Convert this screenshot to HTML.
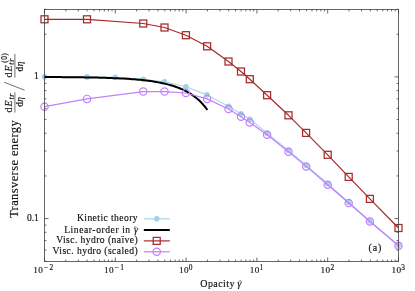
<!DOCTYPE html>
<html><head><meta charset="utf-8"><style>
html,body{margin:0;padding:0;background:#fff}
body{width:415px;height:291px;overflow:hidden;position:relative;font-family:"Liberation Serif",serif}
</style></head><body>
<svg width="415" height="291" viewBox="0 0 415 291" style="position:absolute;left:0;top:0;will-change:transform">
<rect width="415" height="291" fill="#fff"/>
<path d="M44.50 261.5v-4.0M44.50 9.5v4.0M65.81 261.5v-1.9M65.81 9.5v1.9M78.28 261.5v-1.9M78.28 9.5v1.9M87.13 261.5v-1.9M87.13 9.5v1.9M93.99 261.5v-1.9M93.99 9.5v1.9M99.59 261.5v-1.9M99.59 9.5v1.9M104.33 261.5v-1.9M104.33 9.5v1.9M108.44 261.5v-1.9M108.44 9.5v1.9M112.06 261.5v-1.9M112.06 9.5v1.9M115.30 261.5v-4.0M115.30 9.5v4.0M136.61 261.5v-1.9M136.61 9.5v1.9M149.08 261.5v-1.9M149.08 9.5v1.9M157.93 261.5v-1.9M157.93 9.5v1.9M164.79 261.5v-1.9M164.79 9.5v1.9M170.39 261.5v-1.9M170.39 9.5v1.9M175.13 261.5v-1.9M175.13 9.5v1.9M179.24 261.5v-1.9M179.24 9.5v1.9M182.86 261.5v-1.9M182.86 9.5v1.9M186.10 261.5v-4.0M186.10 9.5v4.0M207.41 261.5v-1.9M207.41 9.5v1.9M219.88 261.5v-1.9M219.88 9.5v1.9M228.73 261.5v-1.9M228.73 9.5v1.9M235.59 261.5v-1.9M235.59 9.5v1.9M241.19 261.5v-1.9M241.19 9.5v1.9M245.93 261.5v-1.9M245.93 9.5v1.9M250.04 261.5v-1.9M250.04 9.5v1.9M253.66 261.5v-1.9M253.66 9.5v1.9M256.90 261.5v-4.0M256.90 9.5v4.0M278.21 261.5v-1.9M278.21 9.5v1.9M290.68 261.5v-1.9M290.68 9.5v1.9M299.53 261.5v-1.9M299.53 9.5v1.9M306.39 261.5v-1.9M306.39 9.5v1.9M311.99 261.5v-1.9M311.99 9.5v1.9M316.73 261.5v-1.9M316.73 9.5v1.9M320.84 261.5v-1.9M320.84 9.5v1.9M324.46 261.5v-1.9M324.46 9.5v1.9M327.70 261.5v-4.0M327.70 9.5v4.0M349.01 261.5v-1.9M349.01 9.5v1.9M361.48 261.5v-1.9M361.48 9.5v1.9M370.33 261.5v-1.9M370.33 9.5v1.9M377.19 261.5v-1.9M377.19 9.5v1.9M382.79 261.5v-1.9M382.79 9.5v1.9M387.53 261.5v-1.9M387.53 9.5v1.9M391.64 261.5v-1.9M391.64 9.5v1.9M395.26 261.5v-1.9M395.26 9.5v1.9M398.50 261.5v-4.0M398.50 9.5v4.0M44.5 261.26h1.9M398.5 261.26h-1.9M44.5 250.04h1.9M398.5 250.04h-1.9M44.5 240.55h1.9M398.5 240.55h-1.9M44.5 232.33h1.9M398.5 232.33h-1.9M44.5 225.08h1.9M398.5 225.08h-1.9M44.5 218.60h4.0M398.5 218.60h-4.0M44.5 175.94h1.9M398.5 175.94h-1.9M44.5 150.99h1.9M398.5 150.99h-1.9M44.5 133.29h1.9M398.5 133.29h-1.9M44.5 119.56h1.9M398.5 119.56h-1.9M44.5 108.34h1.9M398.5 108.34h-1.9M44.5 98.85h1.9M398.5 98.85h-1.9M44.5 90.63h1.9M398.5 90.63h-1.9M44.5 83.38h1.9M398.5 83.38h-1.9M44.5 76.90h4.0M398.5 76.90h-4.0M44.5 34.24h1.9M398.5 34.24h-1.9M44.5 9.29h1.9M398.5 9.29h-1.9" stroke="#404040" stroke-width="0.8" fill="none"/>
<polyline points="44.50,76.80 87.00,76.90 115.30,77.30 143.25,79.20 164.50,81.80 185.90,86.70 207.00,94.90 228.50,106.30 241.00,113.90 249.80,119.30 267.10,133.30 288.50,150.40 306.20,165.30 327.70,183.80 348.70,202.30 369.90,221.00 398.50,245.30" fill="none" stroke="#add8e6" stroke-width="1.15" stroke-linejoin="round"/>
<circle cx="44.5" cy="76.8" r="2.8" fill="#a3d3e3"/>
<circle cx="87" cy="76.9" r="2.8" fill="#a3d3e3"/>
<circle cx="115.3" cy="77.3" r="2.8" fill="#a3d3e3"/>
<circle cx="143.25" cy="79.2" r="2.8" fill="#a3d3e3"/>
<circle cx="164.5" cy="81.8" r="2.8" fill="#a3d3e3"/>
<circle cx="185.9" cy="86.7" r="2.8" fill="#a3d3e3"/>
<circle cx="207" cy="94.9" r="2.8" fill="#a3d3e3"/>
<circle cx="228.5" cy="106.3" r="2.8" fill="#a3d3e3"/>
<circle cx="241" cy="113.9" r="2.8" fill="#a3d3e3"/>
<circle cx="249.8" cy="119.3" r="2.8" fill="#a3d3e3"/>
<circle cx="267.1" cy="133.3" r="2.8" fill="#a3d3e3"/>
<circle cx="288.5" cy="150.4" r="2.8" fill="#a3d3e3"/>
<circle cx="306.2" cy="165.3" r="2.8" fill="#a3d3e3"/>
<circle cx="327.7" cy="183.8" r="2.8" fill="#a3d3e3"/>
<circle cx="348.7" cy="202.3" r="2.8" fill="#a3d3e3"/>
<circle cx="369.9" cy="221.0" r="2.8" fill="#a3d3e3"/>
<circle cx="398.5" cy="245.3" r="2.8" fill="#a3d3e3"/>
<polyline points="44.50,77.03 46.54,77.04 48.57,77.05 50.61,77.06 52.65,77.07 54.68,77.08 56.72,77.09 58.75,77.10 60.79,77.12 62.83,77.13 64.86,77.15 66.90,77.17 68.94,77.18 70.97,77.20 73.01,77.22 75.05,77.25 77.08,77.27 79.12,77.30 81.16,77.32 83.19,77.35 85.23,77.38 87.26,77.42 89.30,77.45 91.34,77.49 93.37,77.53 95.41,77.57 97.45,77.62 99.48,77.67 101.52,77.72 103.56,77.78 105.59,77.84 107.63,77.91 109.67,77.98 111.70,78.05 113.74,78.13 115.77,78.21 117.81,78.30 119.85,78.40 121.88,78.51 123.92,78.62 125.96,78.74 127.99,78.87 130.03,79.00 132.07,79.15 134.10,79.31 136.14,79.47 138.17,79.65 140.21,79.85 142.25,80.05 144.28,80.28 146.32,80.51 148.36,80.77 150.39,81.04 152.43,81.34 154.47,81.65 156.50,81.99 158.54,82.36 160.58,82.75 162.61,83.17 164.65,83.63 166.68,84.11 168.72,84.64 170.76,85.21 172.79,85.82 174.83,86.48 176.87,87.19 178.90,87.97 180.94,88.80 182.98,89.71 185.01,90.69 187.05,91.76 189.09,92.92 191.12,94.19 193.16,95.57 195.19,97.08 197.23,98.74 199.27,100.56 201.30,102.57 203.34,104.79 205.38,107.25 207.41,110.00" fill="none" stroke="#000" stroke-width="2" stroke-linejoin="round"/>
<polyline points="44.50,19.30 87.00,19.30 143.25,23.50 164.50,27.50 185.90,35.20 207.10,46.30 228.50,61.50 241.00,71.50 249.80,79.20 267.10,95.20 288.50,115.30 306.10,132.90 327.70,154.80 348.70,176.90 369.90,198.90 398.50,228.00" fill="none" stroke="#a52a2a" stroke-width="1.2" stroke-linejoin="round"/>
<rect x="41.00" y="15.80" width="7" height="7" fill="none" stroke="#a52a2a" stroke-width="1.25"/>
<rect x="83.50" y="15.80" width="7" height="7" fill="none" stroke="#a52a2a" stroke-width="1.25"/>
<rect x="139.75" y="20.00" width="7" height="7" fill="none" stroke="#a52a2a" stroke-width="1.25"/>
<rect x="161.00" y="24.00" width="7" height="7" fill="none" stroke="#a52a2a" stroke-width="1.25"/>
<rect x="182.40" y="31.70" width="7" height="7" fill="none" stroke="#a52a2a" stroke-width="1.25"/>
<rect x="203.60" y="42.80" width="7" height="7" fill="none" stroke="#a52a2a" stroke-width="1.25"/>
<rect x="225.00" y="58.00" width="7" height="7" fill="none" stroke="#a52a2a" stroke-width="1.25"/>
<rect x="237.50" y="68.00" width="7" height="7" fill="none" stroke="#a52a2a" stroke-width="1.25"/>
<rect x="246.30" y="75.70" width="7" height="7" fill="none" stroke="#a52a2a" stroke-width="1.25"/>
<rect x="263.60" y="91.70" width="7" height="7" fill="none" stroke="#a52a2a" stroke-width="1.25"/>
<rect x="285.00" y="111.80" width="7" height="7" fill="none" stroke="#a52a2a" stroke-width="1.25"/>
<rect x="302.60" y="129.40" width="7" height="7" fill="none" stroke="#a52a2a" stroke-width="1.25"/>
<rect x="324.20" y="151.30" width="7" height="7" fill="none" stroke="#a52a2a" stroke-width="1.25"/>
<rect x="345.20" y="173.40" width="7" height="7" fill="none" stroke="#a52a2a" stroke-width="1.25"/>
<rect x="366.40" y="195.40" width="7" height="7" fill="none" stroke="#a52a2a" stroke-width="1.25"/>
<rect x="395.00" y="224.50" width="7" height="7" fill="none" stroke="#a52a2a" stroke-width="1.25"/>
<polyline points="44.50,106.70 87.00,98.90 143.25,91.60 164.50,91.60 185.90,93.00 207.10,98.90 228.50,109.00 241.00,116.80 249.75,122.50 267.10,134.70 288.50,151.70 306.20,166.40 327.70,184.70 348.70,203.00 369.90,221.50 398.50,245.70" fill="none" stroke="#c080ff" stroke-width="1.2" stroke-linejoin="round"/>
<circle cx="44.5" cy="106.7" r="3.65" fill="none" stroke="#c080ff" stroke-width="1.2"/>
<circle cx="87" cy="98.9" r="3.65" fill="none" stroke="#c080ff" stroke-width="1.2"/>
<circle cx="143.25" cy="91.6" r="3.65" fill="none" stroke="#c080ff" stroke-width="1.2"/>
<circle cx="164.5" cy="91.6" r="3.65" fill="none" stroke="#c080ff" stroke-width="1.2"/>
<circle cx="185.9" cy="93.0" r="3.65" fill="none" stroke="#c080ff" stroke-width="1.2"/>
<circle cx="207.1" cy="98.9" r="3.65" fill="none" stroke="#c080ff" stroke-width="1.2"/>
<circle cx="228.5" cy="109.0" r="3.65" fill="none" stroke="#c080ff" stroke-width="1.2"/>
<circle cx="241" cy="116.8" r="3.65" fill="none" stroke="#c080ff" stroke-width="1.2"/>
<circle cx="249.75" cy="122.5" r="3.65" fill="none" stroke="#c080ff" stroke-width="1.2"/>
<circle cx="267.1" cy="134.7" r="3.65" fill="none" stroke="#c080ff" stroke-width="1.2"/>
<circle cx="288.5" cy="151.7" r="3.65" fill="none" stroke="#c080ff" stroke-width="1.2"/>
<circle cx="306.2" cy="166.4" r="3.65" fill="none" stroke="#c080ff" stroke-width="1.2"/>
<circle cx="327.7" cy="184.7" r="3.65" fill="none" stroke="#c080ff" stroke-width="1.2"/>
<circle cx="348.7" cy="203.0" r="3.65" fill="none" stroke="#c080ff" stroke-width="1.2"/>
<circle cx="369.9" cy="221.5" r="3.65" fill="none" stroke="#c080ff" stroke-width="1.2"/>
<circle cx="398.5" cy="245.7" r="3.65" fill="none" stroke="#c080ff" stroke-width="1.2"/>
<rect x="44.5" y="9.5" width="354.0" height="252.0" fill="none" stroke="#404040" stroke-width="0.8"/>
<path d="M143.8 218.8H169.8" stroke="#add8e6" stroke-width="1.3"/><circle cx="156.7" cy="218.8" r="2.8" fill="#a3d3e3"/>
<path d="M143.8 230H169.8" stroke="#000" stroke-width="2"/>
<path d="M143.8 240.9H169.8" stroke="#a52a2a" stroke-width="1.2"/><rect x="153.2" y="237.4" width="7" height="7" fill="none" stroke="#a52a2a" stroke-width="1.25"/>
<path d="M143.8 251.8H169.8" stroke="#c080ff" stroke-width="1.2"/><circle cx="156.7" cy="251.8" r="3.65" fill="none" stroke="#c080ff" stroke-width="1.2"/>
<text x="138.1" y="221.3" text-anchor="end" font-family="Liberation Serif, serif" fill="#111" stroke="#111" stroke-width="0.15" font-size="9.6" letter-spacing="0.43">Kinetic theory</text>
<text x="138.6" y="232.5" text-anchor="end" font-family="Liberation Serif, serif" fill="#111" stroke="#111" stroke-width="0.15" font-size="9.6" letter-spacing="0.56">Linear-order in <tspan font-style="italic" font-size="10" dx="0.4">γ</tspan></text>
<path d="M133.9 228.1l1.4 -1.5l1.4 1.5" fill="none" stroke="#222" stroke-width="0.6"/>
<text x="138.1" y="243.4" text-anchor="end" font-family="Liberation Serif, serif" fill="#111" stroke="#111" stroke-width="0.15" font-size="9.6" letter-spacing="0.43">Visc. hydro (naïve)</text>
<text x="138.1" y="254.3" text-anchor="end" font-family="Liberation Serif, serif" fill="#111" stroke="#111" stroke-width="0.15" font-size="9.6" letter-spacing="0.43">Visc. hydro (scaled)</text>
<text x="33.20" y="273.2" font-family="Liberation Serif, serif" fill="#111" stroke="#111" stroke-width="0.15" font-size="9.2" letter-spacing="0.4">10<tspan font-size="7.4" dy="-3.2" dx="0.6" letter-spacing="1.6">−2</tspan></text>
<text x="104.00" y="273.2" font-family="Liberation Serif, serif" fill="#111" stroke="#111" stroke-width="0.15" font-size="9.2" letter-spacing="0.4">10<tspan font-size="7.4" dy="-3.2" dx="0.6" letter-spacing="1.6">−1</tspan></text>
<text x="179.00" y="273.2" font-family="Liberation Serif, serif" fill="#111" stroke="#111" stroke-width="0.15" font-size="9.2" letter-spacing="0.4">10<tspan font-size="7.4" dy="-3.2" dx="-0.2" letter-spacing="0.2">0</tspan></text>
<text x="249.80" y="273.2" font-family="Liberation Serif, serif" fill="#111" stroke="#111" stroke-width="0.15" font-size="9.2" letter-spacing="0.4">10<tspan font-size="7.4" dy="-3.2" dx="-0.2" letter-spacing="0.2">1</tspan></text>
<text x="320.60" y="273.2" font-family="Liberation Serif, serif" fill="#111" stroke="#111" stroke-width="0.15" font-size="9.2" letter-spacing="0.4">10<tspan font-size="7.4" dy="-3.2" dx="-0.2" letter-spacing="0.2">2</tspan></text>
<text x="391.40" y="273.2" font-family="Liberation Serif, serif" fill="#111" stroke="#111" stroke-width="0.15" font-size="9.2" letter-spacing="0.4">10<tspan font-size="7.4" dy="-3.2" dx="-0.2" letter-spacing="0.2">3</tspan></text>
<text x="38.9" y="79.30" text-anchor="end" font-family="Liberation Serif, serif" fill="#111" stroke="#111" stroke-width="0.15" font-size="9.6">1</text>
<text x="38.9" y="221.20" text-anchor="end" font-family="Liberation Serif, serif" fill="#111" stroke="#111" stroke-width="0.15" font-size="9.6">0.1</text>
<text x="368.5" y="251.2" font-family="Liberation Serif, serif" fill="#111" stroke="#111" stroke-width="0.15" font-size="10" letter-spacing="0.85">(a)</text>
<text x="200.3" y="286.8" font-family="Liberation Serif, serif" fill="#111" stroke="#111" stroke-width="0.15" font-size="10" letter-spacing="0.42">Opacity</text>
<text x="237.3" y="286.8" font-family="Liberation Serif, serif" fill="#111" stroke="#111" stroke-width="0.15" font-size="10.4" font-style="italic">γ</text>
<path d="M238.7 281.9l1.5 -1.6l1.5 1.6" fill="none" stroke="#222" stroke-width="0.6"/>
<g transform="translate(17.8,218) rotate(-90)" font-family="Liberation Serif, serif" fill="#111" stroke="#111" stroke-width="0.15">
<text x="0" y="0" font-size="12.5" letter-spacing="0.4">Transverse energy</text>
<path d="M105.4 -2.9H125.7" stroke="#333" stroke-width="0.7"/><text x="105.60000000000001" y="-5.6" font-size="10" letter-spacing="0.95">d<tspan font-style="italic">E</tspan><tspan font-size="8" dy="1.6" dx="-0.2" font-style="italic" letter-spacing="0.6">tr</tspan></text><text x="111.25000000000001" y="4.8" font-size="9.5">d<tspan font-style="italic" dx="0.3">η</tspan></text>
<path d="M127.8 6.8L135.7 -13.5" stroke="#333" stroke-width="0.7"/>
<path d="M140.3 -2.9H164.1" stroke="#333" stroke-width="0.7"/><text x="140.5" y="-5.6" font-size="10" letter-spacing="0.95">d<tspan font-style="italic">E</tspan><tspan font-size="8" dy="1.6" dx="-0.2" font-style="italic" letter-spacing="0.6">tr</tspan></text><text x="155.3" y="-10.9" font-size="7.5" letter-spacing="0.4">(0)</text><text x="146.6" y="4.8" font-size="9.5">d<tspan font-style="italic" dx="0.3">η</tspan></text>
</g>
</svg>
</body></html>
